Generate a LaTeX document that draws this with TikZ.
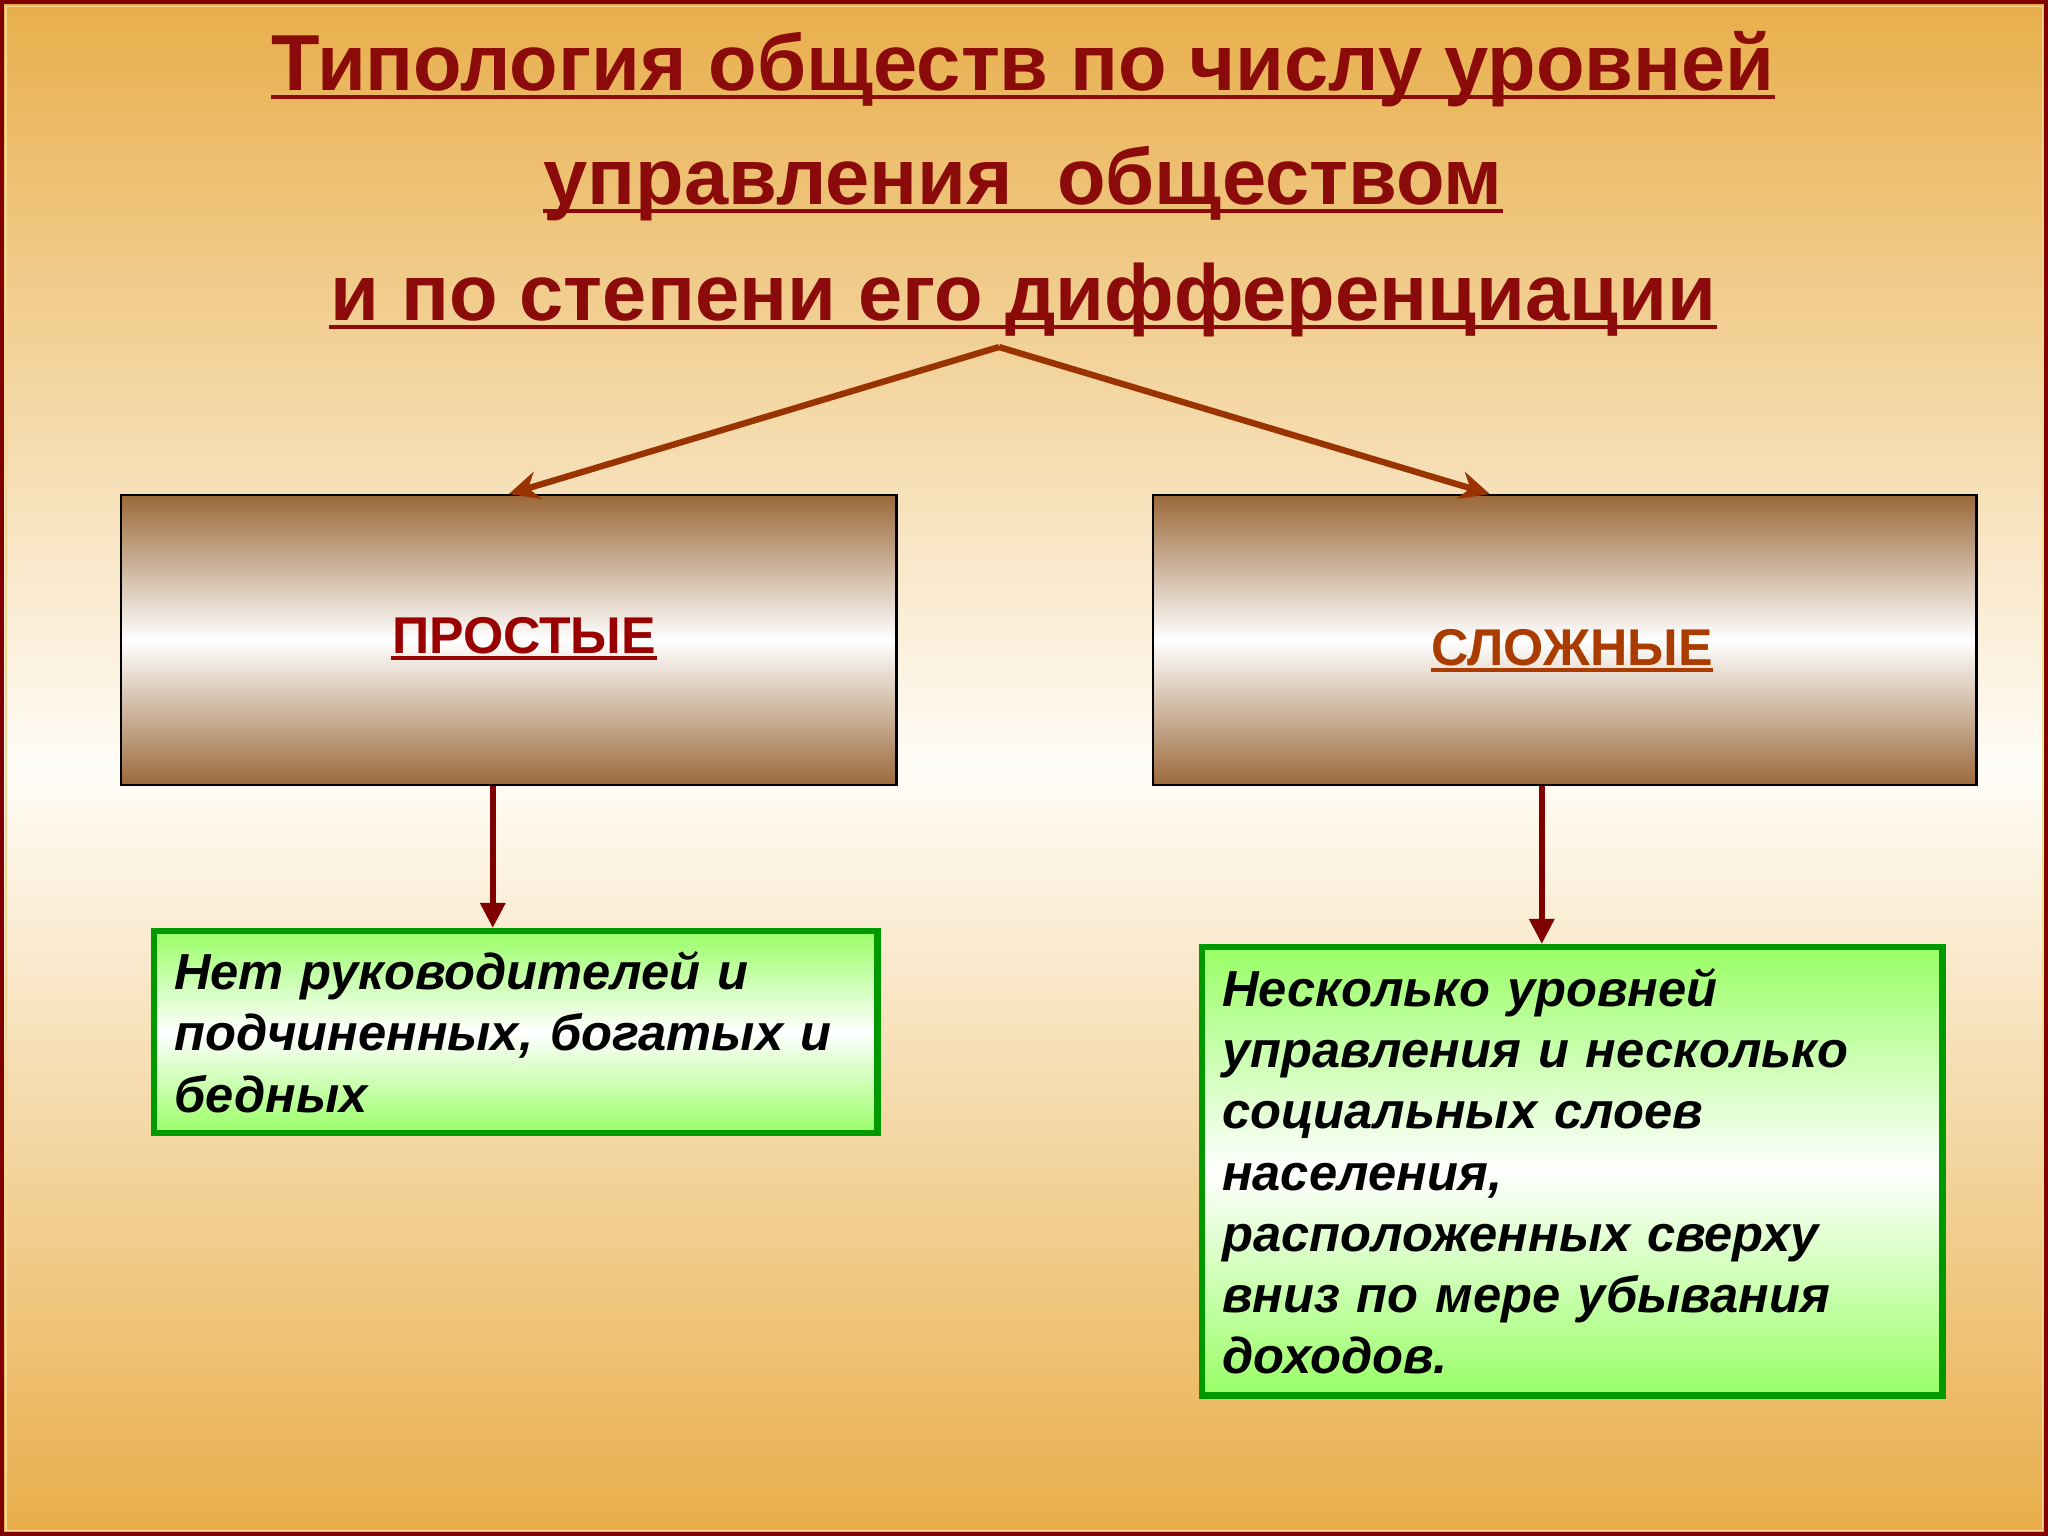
\documentclass[tikz,border=0pt]{standalone}
\usepackage{fontspec}
\setmainfont{Liberation Sans}
\usetikzlibrary{arrows.meta}
\definecolor{bgtop}{RGB}{232,174,74}
\definecolor{bgmid}{RGB}{255,253,248}
\definecolor{bgbot}{RGB}{232,173,72}
\definecolor{framered}{RGB}{128,0,0}
\definecolor{framelight}{RGB}{248,216,144}
\definecolor{titlered}{RGB}{139,10,10}
\definecolor{labelred}{RGB}{153,0,0}
\definecolor{labelbrown}{RGB}{170,60,0}
\definecolor{arrowbrown}{RGB}{153,51,0}
\definecolor{boxbrown}{RGB}{155,105,58}
\definecolor{boxgreen}{RGB}{153,255,102}
\definecolor{edgegreen}{RGB}{0,153,0}

\begin{document}
\begin{tikzpicture}[x=0.01cm,y=-0.01cm,
  every node/.style={inner sep=0pt},
  titletext/.style={anchor=base,text=titlered,font=\fontsize{22.6}{27}\selectfont\bfseries},
  boxlabel/.style={anchor=base,font=\fontsize{14.7}{17}\selectfont\bfseries},
  brownbox/.style={anchor=north west,draw=black,line width=0.6pt,top color=boxbrown,bottom color=boxbrown,middle color=white,minimum height=2.9cm},
  greenbox/.style={anchor=north west,draw=edgegreen,line width=1.8pt,top color=boxgreen,bottom color=boxgreen,middle color=white,
    align=left,inner xsep=0.2cm,inner ysep=0.1cm,font=\fontsize{14.4}{17.4}\selectfont\bfseries\itshape},
  splitarrow/.style={draw=arrowbrown,line width=1.8pt,-{Stealth[length=3mm,width=2.8mm]}},
  downarrow/.style={draw=framered,line width=1.7pt,-{Triangle[length=2.5mm,width=2.4mm]}},
  underl/.style={line width=1.1pt}]
\useasboundingbox (0,0) rectangle (2048,1536);
\shade[top color=bgtop,bottom color=bgbot,middle color=bgmid] (0,0) rectangle (2048,1536);
\draw[framered,line width=0.4mm] (2,2) rectangle (2046,1534);
\draw[framelight,line width=0.1mm] (6,6) rectangle (2042,1530);
\node[titletext] (t1) at (1023,90) {Типология обществ по числу уровней};
\node[titletext] (t2) at (1023,204) {управления \ обществом};
\node[titletext] (t3) at (1023,320) {и по степени его дифференциации};
\draw[underl,titlered] ([yshift=-0.07cm]t1.base west) -- ([yshift=-0.07cm]t1.base east);
\draw[underl,titlered] ([yshift=-0.07cm]t2.base west) -- ([yshift=-0.07cm]t2.base east);
\draw[underl,titlered] ([yshift=-0.07cm]t3.base west) -- ([yshift=-0.07cm]t3.base east);
\node[brownbox,minimum width=7.75cm] (b1) at (120,494) {};
\node[brownbox,minimum width=8.23cm] (b2) at (1152,494) {};
\node[boxlabel,text=labelred] (l1) at (524,653) {ПРОСТЫЕ};
\node[boxlabel,text=labelbrown] (l2) at (1572,665) {СЛОЖНЫЕ};
\draw[underl,labelred] ([yshift=-0.05cm]l1.base west) -- ([yshift=-0.05cm]l1.base east);
\draw[underl,labelbrown] ([yshift=-0.05cm]l2.base west) -- ([yshift=-0.05cm]l2.base east);
\node[greenbox,text width=6.83cm,minimum height=2.02cm] (g1) at (151,928)
  {Нет руководителей и\\подчиненных, богатых и\\бедных};
\node[greenbox,text width=7.0cm,minimum height=4.48cm] (g2) at (1199,944)
  {Несколько уровней\\управления и несколько\\социальных слоев\\населения,\\расположенных сверху\\вниз по мере убывания\\доходов.};
\coordinate (a0) at (999,347);
\coordinate (s1) at ([xshift=-0.16cm]b1.south);
\coordinate (s2) at ([xshift=-0.23cm]b2.south);
\draw[splitarrow] (a0) -- (b1.north);
\draw[splitarrow] (a0) -- ([xshift=-0.75cm]b2.north);
\draw[downarrow] (s1) -- (s1 |- g1.north);
\draw[downarrow] (s2) -- (s2 |- g2.north);
\end{tikzpicture}
\end{document}
